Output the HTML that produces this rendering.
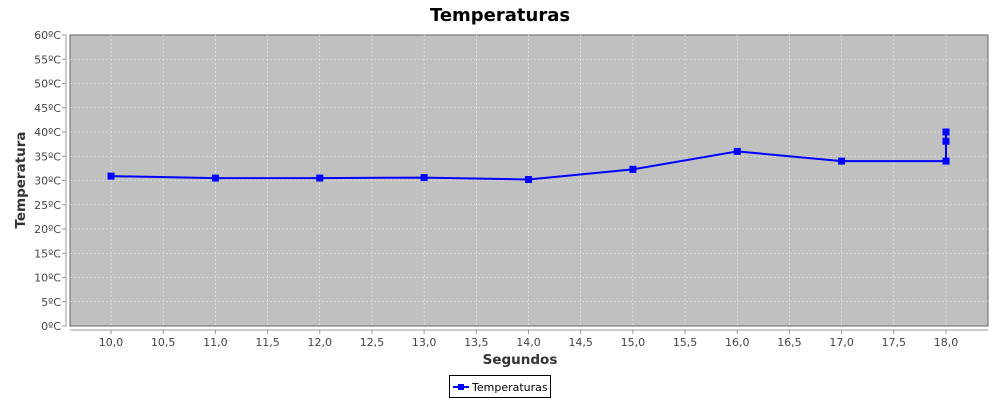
<!DOCTYPE html>
<html><head><meta charset="utf-8"><style>
body{margin:0;background:#fff;width:1000px;height:400px;overflow:hidden;font-family:"DejaVu Sans","Liberation Sans",sans-serif}
</style></head><body>
<svg width="1000" height="400" id="c">
<text x="500" y="21" text-anchor="middle" font-family="DejaVu Sans,sans-serif" font-weight="bold" font-size="18">Temperaturas</text>
<rect x="70" y="35" width="918" height="291" fill="#c0c0c0" stroke="#666" stroke-width="1"/>
<g id="grid"></g>
<line x1="66" y1="35" x2="66" y2="326" stroke="#999"/>
<line x1="70" y1="330" x2="988" y2="330" stroke="#999"/>
<g id="ticks" font-size="11" fill="#444"></g>
<text x="520" y="364" text-anchor="middle" font-size="13.5" font-weight="bold" fill="#333">Segundos</text>
<text transform="translate(25,180) rotate(-90)" text-anchor="middle" font-size="13.5" font-weight="bold" fill="#333">Temperatura</text>
<g id="series"></g>
<g>
<rect x="449.5" y="375.5" width="101" height="22" fill="#fff" stroke="#000"/>
<line x1="453" y1="387" x2="469" y2="387" stroke="#00f" stroke-width="2"/>
<rect x="458" y="384" width="6" height="6" fill="#00f"/>
<text x="472" y="391" font-size="11" fill="#000">Temperaturas</text>
</g>
</svg>
<script>
const xs=[10,11,12,13,14,15,16,17,18,18,18];
const temps=[30.9,30.5,30.5,30.6,30.2,32.3,36,34,34,38.1,40];
const xTicks=[10,10.5,11,11.5,12,12.5,13,13.5,14,14.5,15,15.5,16,16.5,17,17.5,18];
const yTicks=[0,5,10,15,20,25,30,35,40,45,50,55,60];
const ns="http://www.w3.org/2000/svg";
const X=v=>111+(v-10)*104.375, Y=v=>326-v*4.85;
const grid=document.getElementById('grid'),ticks=document.getElementById('ticks'),ser=document.getElementById('series');
function mk(tag,a,p){const e=document.createElementNS(ns,tag);for(const k in a)e.setAttribute(k,a[k]);p.appendChild(e);return e;}
xTicks.forEach(t=>{const x=X(t);
const g=mk('line',{x1:x,y1:35,x2:x,y2:326,stroke:'#eee','stroke-dasharray':'2,2','stroke-width':0.6},grid);


mk('line',{x1:x,y1:330,x2:x,y2:334,stroke:'#999'},ticks);
const tx=mk('text',{x:x,y:346,'text-anchor':'middle'},ticks);tx.textContent=t.toFixed(1).replace('.',',');

});
yTicks.forEach(t=>{const y=Y(t);
if(t>0&&t<60){const g=mk('line',{x1:70,y1:y,x2:988,y2:y,stroke:'#eee','stroke-dasharray':'2,2','stroke-width':0.6},grid);

}
mk('line',{x1:62,y1:y,x2:66,y2:y,stroke:'#999'},ticks);
const tx=mk('text',{x:61,y:y+4,'text-anchor':'end'},ticks);tx.textContent=t+'ºC';

});
const pl=mk('polyline',{points:xs.map((v,i)=>X(v)+','+Y(temps[i])).join(' '),fill:'none',stroke:'#00f','stroke-width':2},ser);


xs.forEach((v,i)=>{const r=mk('rect',{x:X(v)-3.5,y:Y(temps[i])-3.5,width:7,height:7,fill:'#00f'},ser);

});
</script>
</body></html>
